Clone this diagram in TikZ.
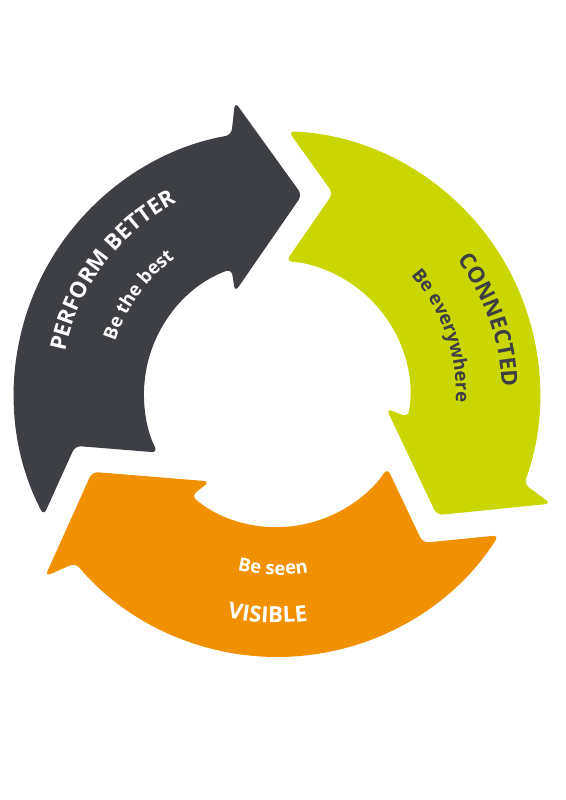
\documentclass[tikz,border=0pt]{standalone}
\usepackage{fontspec}
\setmainfont{Open Sans}
\usetikzlibrary{decorations.text}
\definecolor{slate}{RGB}{61,63,69}
\definecolor{lime}{RGB}{202,214,0}
\definecolor{amber}{RGB}{242,145,0}
\newcommand{\arrowtitle}{\bfseries\fontsize{15.8}{18}\selectfont}
\newcommand{\arrowsub}{\bfseries\fontsize{13.2}{16}\selectfont}

\begin{document}
\begin{tikzpicture}[x=0.25mm, y=0.25mm,
segment/.style={rounded corners=1.5mm},
curved/.style={decorate, decoration={text along path, text align=center, text color=#1}},
]
\useasboundingbox (-277,-406) rectangle (289,394);

% Pfeile (ein Umriss, dreimal gedreht)
\foreach \turn/\tone in {0/slate, -120/lime, 120/amber}
  \fill[segment, fill=\tone, rotate=\turn] (207.5:263) arc[start angle=207.5, end angle=100, radius=263]
    -- (-42,292) -- (25,199) -- (-42,102)
    -- (110:133) arc[start angle=110, end angle=206.1, radius=133]
    -- (-201.8,-51.85) -- cycle;

% Texte - Perform better
\path[curved=white, decoration={text={|\arrowtitle|PERFORM BETTER}}] (175.2:216) arc[start angle=175.2, end angle=111.2, radius=216];
\path[curved=white, decoration={text={|\arrowsub|Be the best}}] (174.5:170) arc[start angle=174.5, end angle=114.5, radius=170];

% Texte - Connected
\path[curved=slate, decoration={text={|\arrowtitle|CONNECTED}}] (49.2:225) arc[start angle=49.2, end angle=-10.8, radius=225];
\path[curved=slate, decoration={text={|\arrowsub|Be everywhere}}] (49.5:179) arc[start angle=49.5, end angle=-10.5, radius=179];

% Texte - Visible
\path[curved=white, decoration={text={|\arrowsub|Be seen}}] (-121.3:181) arc[start angle=-121.3, end angle=-61.3, radius=181];
\path[curved=white, decoration={text={|\arrowtitle|VISIBLE}}] (-122.4:229) arc[start angle=-122.4, end angle=-62.4, radius=229];

\end{tikzpicture}
\end{document}
